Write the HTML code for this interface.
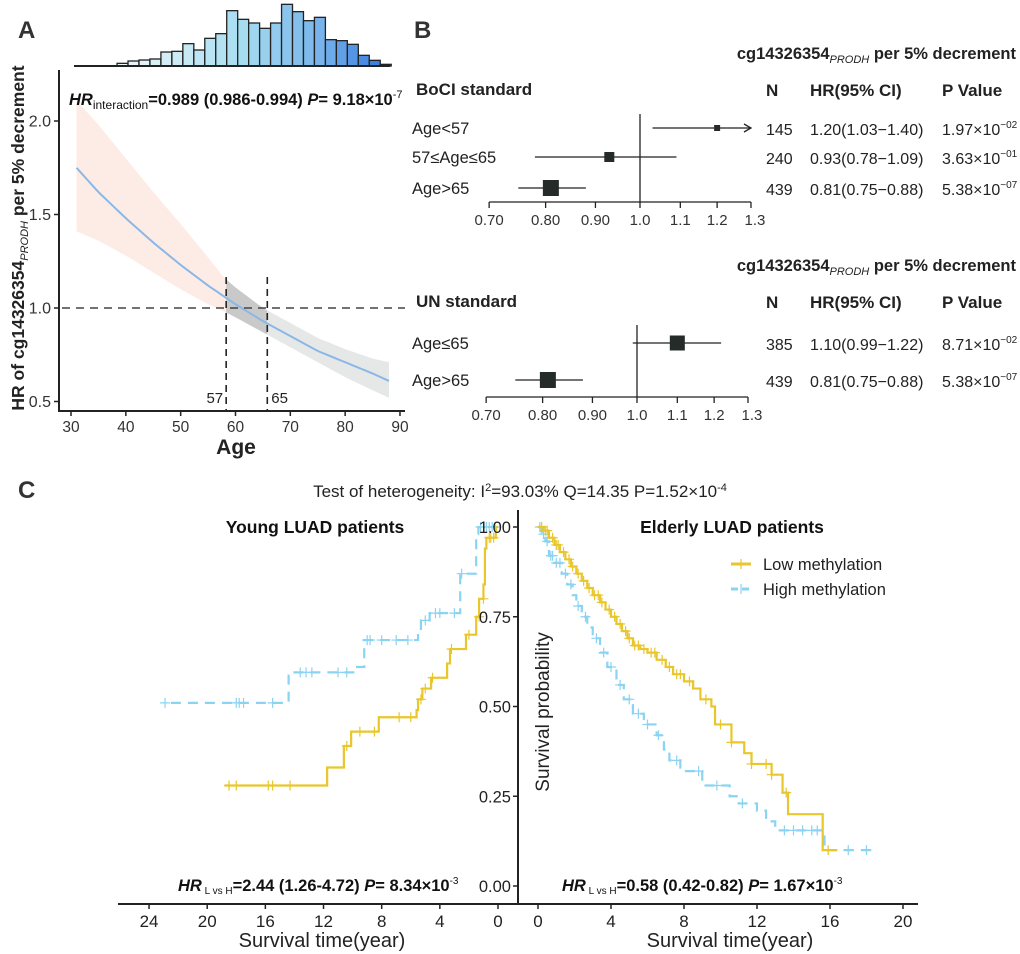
<!DOCTYPE html>
<html><head><meta charset="utf-8"><style>
body{margin:0;background:#fff;}
svg{display:block;font-family:"Liberation Sans",Arial,sans-serif;}
</style></head><body>
<svg id="fig" width="1020" height="954" viewBox="0 0 1020 954">
<g id="gA"></g>
<g id="gB"></g>
<g id="gC"></g>
</svg>
<script>
// ---------- Panel A data ----------
const histStartAge = 38.4;
const histBinWidth = 2;
const histCounts = [8,15,18,21,42,44,67,48,83,97,166,140,129,113,129,185,163,136,146,79,76,65,32,17,5];
const curveAges = [31,35,40,45,50,55,58,60,65,70,75,80,85,88];
const curveHR   = [1.75,1.62,1.48,1.35,1.23,1.12,1.06,1.02,0.93,0.85,0.77,0.71,0.65,0.61];
const curveUpper= [2.11,1.98,1.80,1.62,1.45,1.27,1.16,1.11,1.00,0.92,0.84,0.78,0.73,0.71];
const curveLower= [1.41,1.36,1.28,1.19,1.10,1.02,0.98,0.95,0.87,0.79,0.71,0.63,0.56,0.52];
const cutAges = [58.3,65.8];
const cutLabels = ["57","65"];
const ageTicks = [30,40,50,60,70,80,90];
const hrTicks = [0.5,1.0,1.5,2.0];
// ---------- Panel B data ----------
const f1Labels = ["Age<57","57≤Age≤65","Age>65"];
const f1N = ["145","240","439"];
const f1HR = [1.20,0.93,0.81];
const f1Lo = [1.03,0.78,0.75];
const f1Hi = [1.40,1.09,0.88];
const f1HRtxt = ["1.20(1.03−1.40)","0.93(0.78−1.09)","0.81(0.75−0.88)"];
const f1Pbase = ["1.97×10","3.63×10","5.38×10"];
const f1Pexp = ["−02","−01","−07"];
const f2Labels = ["Age≤65","Age>65"];
const f2N = ["385","439"];
const f2HR = [1.10,0.81];
const f2Lo = [0.99,0.75];
const f2Hi = [1.22,0.88];
const f2HRtxt = ["1.10(0.99−1.22)","0.81(0.75−0.88)"];
const f2Pbase = ["8.71×10","5.38×10"];
const f2Pexp = ["−02","−07"];
const forestTicks = [0.7,0.8,0.9,1.0,1.1,1.2,1.3];
const forestTickLabels = ["0.70","0.80","0.90","1.0","1.1","1.2","1.3"];
// ---------- Panel C data ----------
const youngLowSteps = [[0,1.0],[0.15,0.97],[0.8,0.94],[0.9,0.84],[1.0,0.80],[1.3,0.75],[1.5,0.70],[2.2,0.66],[3.3,0.62],[3.5,0.58],[4.6,0.55],[5.2,0.52],[5.5,0.49],[5.6,0.47],[8.2,0.43],[10.1,0.39],[10.6,0.33],[11.75,0.28]];
const youngLowEnd = 18.8;
const youngLowCens = [0.3,0.5,0.6,1.0,1.3,2.0,3.2,4.5,5.0,5.3,6.0,6.8,8.5,9.5,10.4,14.3,15.5,15.8,18.0,18.5];
const youngHighSteps = [[0,1.0],[1.35,0.98],[1.5,0.87],[2.6,0.76],[4.7,0.74],[5.3,0.71],[5.5,0.685],[9.2,0.61],[9.8,0.595],[14.4,0.51]];
const youngHighEnd = 22.9;
const youngHighCens = [0.2,0.4,0.6,0.8,1.2,2.5,3.0,4.0,4.3,5.0,6.2,7.0,8.0,8.8,9.0,10.4,11.0,12.8,13.2,13.6,15.5,17.5,17.8,18.0,22.9];
const oldLowSteps = [[0,1.0],[0.3,0.99],[0.6,0.97],[0.9,0.95],[1.2,0.93],[1.5,0.91],[1.8,0.89],[2.1,0.87],[2.4,0.85],[2.7,0.83],[3.0,0.81],[3.4,0.79],[3.7,0.77],[4.0,0.75],[4.3,0.73],[4.6,0.71],[4.9,0.69],[5.2,0.67],[5.6,0.66],[6.0,0.65],[6.5,0.63],[7.0,0.61],[7.4,0.59],[8.0,0.57],[8.5,0.55],[8.9,0.52],[9.5,0.50],[9.7,0.45],[10.6,0.40],[11.3,0.37],[11.7,0.34],[12.8,0.31],[13.4,0.26],[13.7,0.20],[15.6,0.10]];
const oldLowEnd = 16.4;
const oldLowCens = [0.2,0.4,0.5,0.8,1.0,1.1,1.4,1.7,1.9,2.2,2.5,2.8,3.1,3.3,3.5,3.9,4.2,4.5,4.8,5.0,5.3,5.5,5.8,6.2,6.4,6.8,7.2,7.6,7.8,8.3,9.2,10.0,10.6,11.7,12.5,12.8,13.6,15.9];
const oldHighSteps = [[0,1.0],[0.2,0.98],[0.4,0.96],[0.6,0.92],[0.9,0.90],[1.3,0.87],[1.6,0.84],[1.9,0.81],[2.1,0.78],[2.4,0.75],[2.7,0.72],[3.0,0.69],[3.4,0.65],[3.8,0.61],[4.3,0.56],[4.7,0.52],[5.2,0.48],[5.8,0.45],[6.5,0.42],[6.9,0.38],[7.2,0.35],[7.8,0.32],[9.0,0.28],[10.5,0.25],[11.0,0.23],[12.0,0.21],[12.5,0.18],[13.0,0.155],[15.7,0.10]];
const oldHighEnd = 18.4;
const oldHighCens = [0.1,0.3,0.5,0.7,0.8,1.0,1.2,1.5,1.8,2.2,2.6,3.2,3.6,4.0,4.5,5.0,5.5,6.0,6.6,7.6,8.8,9.8,11.2,13.5,14.0,14.5,15.0,15.3,17.0,18.0];
const leftTimeTicks = [24,20,16,12,8,4,0];
const rightTimeTicks = [0,4,8,12,16,20];
const survTicks = [0,0.25,0.5,0.75,1.0];
const survTickLabels = ["0.00","0.25","0.50","0.75","1.00"];

const NS="http://www.w3.org/2000/svg";
function mk(parent,tag,attrs,text){const e=document.createElementNS(NS,tag);for(const k in attrs)e.setAttribute(k,attrs[k]);if(text!==undefined)e.textContent=text;parent.appendChild(e);return e;}

// ===== Panel A =====
const gA=document.getElementById('gA');
const ax=a=>71+(a-30)*5.483;
const ay=h=>308-(h-1)*187;
let t;
t=mk(gA,'text',{x:18,y:38,'font-size':24,'font-weight':'bold',fill:'#333'},'A');

const histBase=66, histScale=1/3;
function lerp(c1,c2,f){return c1.map((v,i)=>Math.round(v+(c2[i]-v)*f));}
histCounts.forEach((c,i)=>{
  const f=i/(histCounts.length-1);
  const col=f<0.45?lerp([238,247,250],[166,221,240],f/0.45):(f<0.75?lerp([166,221,240],[120,180,235],(f-0.45)/0.3):lerp([120,180,235],[50,120,220],(f-0.75)/0.25));
  const x0=ax(histStartAge+i*histBinWidth), x1=ax(histStartAge+(i+1)*histBinWidth);
  const r=mk(gA,'rect',{x:x0,y:histBase-c*histScale,width:x1-x0,height:c*histScale,fill:`rgb(${col})`,stroke:'#222','stroke-width':1.3});
  
});
t=mk(gA,'line',{x1:74,y1:histBase,x2:390,y2:histBase,stroke:'#222','stroke-width':2});

function interp(arr,a){for(let i=0;i<curveAges.length-1;i++){if(a>=curveAges[i]&&a<=curveAges[i+1]){const f=(a-curveAges[i])/(curveAges[i+1]-curveAges[i]);return arr[i]+(arr[i+1]-arr[i])*f;}}return arr[arr.length-1];}
function bandPath(a0,a1){
  const up=[],low=[];
  const n=40;
  for(let s=0;s<=n;s++){const a=a0+(a1-a0)*s/n;up.push([ax(a),ay(interp(curveUpper,a))]);low.push([ax(a),ay(interp(curveLower,a))]);}
  return 'M'+up.map(p=>p.join(',')).join('L')+'L'+low.reverse().map(p=>p.join(',')).join('L')+'Z';
}
const aMin=curveAges[0],aMax=curveAges[curveAges.length-1];
t=mk(gA,'path',{d:bandPath(aMin,cutAges[0]),fill:'#fdece6'});

t=mk(gA,'path',{d:bandPath(cutAges[0],cutAges[1]),fill:'#c9c9c9'});

t=mk(gA,'path',{d:bandPath(cutAges[1],aMax),fill:'#e6e8e8'});

let cd='';
for(let s=0;s<=80;s++){const a=aMin+(aMax-aMin)*s/80;cd+=(cd?'L':'M')+ax(a)+','+ay(interp(curveHR,a));}
t=mk(gA,'path',{d:cd,fill:'none',stroke:'#8ab8e6','stroke-width':2});

t=mk(gA,'line',{x1:62,y1:ay(1),x2:405,y2:ay(1),stroke:'#444','stroke-width':1.6,'stroke-dasharray':'8 6'});

cutAges.forEach((c,i)=>{
  t=mk(gA,'line',{x1:ax(c),y1:277,x2:ax(c),y2:410,stroke:'#222','stroke-width':1.6,'stroke-dasharray':'7 5'});
  
  t=mk(gA,'text',{x:i==0?ax(c)-3:ax(c)+4,y:403,'font-size':15,fill:'#222','text-anchor':i==0?'end':'start'},cutLabels[i]);
  
});
t=mk(gA,'path',{d:'M59,70V411H405',fill:'none',stroke:'#222','stroke-width':2});

ageTicks.forEach(a=>{mk(gA,'line',{x1:ax(a),y1:411,x2:ax(a),y2:416,stroke:'#222','stroke-width':1.5});
  t=mk(gA,'text',{x:ax(a),y:432,'font-size':15.5,fill:'#333','text-anchor':'middle'},a);
  });
hrTicks.forEach(h=>{mk(gA,'line',{x1:54,y1:ay(h),x2:59,y2:ay(h),stroke:'#222','stroke-width':1.5});
  t=mk(gA,'text',{x:51,y:ay(h)+5.5,'font-size':16,fill:'#333','text-anchor':'end'},h.toFixed(1));
  });
t=mk(gA,'text',{x:236,y:454,'font-size':21,'font-weight':'bold',fill:'#222','text-anchor':'middle'},'Age');

t=mk(gA,'text',{transform:'translate(24,238) rotate(-90)','font-size':17.5,'font-weight':'bold',fill:'#222','text-anchor':'middle'});

t.innerHTML='HR of cg14326354<tspan font-size="11" font-style="italic" font-weight="normal" dy="4">PRODH</tspan><tspan dy="-4"> per 5% decrement</tspan>';
t=mk(gA,'text',{x:69,y:105,'font-size':16.5,'font-weight':'bold',fill:'#111'});

t.innerHTML='<tspan font-style="italic">HR</tspan><tspan font-size="12" font-weight="normal" dy="4">interaction</tspan><tspan dy="-4">=0.989 (0.986-0.994) </tspan><tspan font-style="italic">P</tspan>= 9.18×10<tspan font-size="11" font-weight="normal" dy="-7">-7</tspan>';

// ===== Panel B =====
const gB=document.getElementById('gB');
t=mk(gB,'text',{x:414,y:38,'font-size':24,'font-weight':'bold',fill:'#333'},'B');

const fk=423;
const colN=766, colHR=810, colP=942;
function forest(cx,hdrY,rowYs,axisY,vTop,labels,ns,hrs,los,his,hrt,pb,pe,sizes,tag){
  const fx=v=>cx+Math.log(Math.min(v,1.3))*fk;
  t=mk(gB,'text',{x:1016,y:hdrY-36,'font-size':16.5,'font-weight':'bold',fill:'#222','text-anchor':'end'});
  
  t.innerHTML='cg14326354<tspan font-size="11" font-style="italic" font-weight="normal" dy="4">PRODH</tspan><tspan dy="-4"> per 5% decrement</tspan>';
  t=mk(gB,'text',{x:416,y:hdrY,'font-size':17,'font-weight':'bold',fill:'#222'},tag=='forest-boci'?'BoCI standard':'UN standard');
  
  [['N',colN],['HR(95% CI)',colHR],['P Value',colP]].forEach(h=>{t=mk(gB,'text',{x:h[1],y:hdrY+1,'font-size':17,'font-weight':'bold',fill:'#222'},h[0]);
    });
  mk(gB,'line',{x1:cx,y1:vTop,x2:cx,y2:axisY,stroke:'#222','stroke-width':1.3});
  labels.forEach((lab,i)=>{
    const y=rowYs[i];
    t=mk(gB,'text',{x:412,y:y+6,'font-size':16.5,fill:'#222'},lab);
    const x2=fx(his[i]);
    t=mk(gB,'line',{x1:fx(los[i]),y1:y,x2:x2,y2:y,stroke:'#222','stroke-width':1.3});
    
    if(his[i]>1.3){mk(gB,'path',{d:`M${x2-7},${y-4}L${x2},${y}L${x2-7},${y+4}`,fill:'none',stroke:'#222','stroke-width':1.3});}
    const s=sizes[i];
    t=mk(gB,'rect',{x:fx(hrs[i])-s/2,y:y-s/2,width:s,height:s,fill:'#252b28'});
    
    t=mk(gB,'text',{x:colN,y:y+7,'font-size':16,fill:'#222'},ns[i]);
    t=mk(gB,'text',{x:colHR,y:y+7,'font-size':16,fill:'#222'},hrt[i]);
    t=mk(gB,'text',{x:colP,y:y+7,'font-size':16,fill:'#222'});
    t.innerHTML=pb[i]+'<tspan font-size="10" dy="-7">'+pe[i]+'</tspan>';
  });
  mk(gB,'line',{x1:fx(0.7),y1:axisY,x2:fx(1.3),y2:axisY,stroke:'#222','stroke-width':1.3});
  forestTicks.forEach((v,i)=>{mk(gB,'line',{x1:fx(v),y1:axisY,x2:fx(v),y2:axisY+6,stroke:'#222','stroke-width':1.3});
    t=mk(gB,'text',{x:fx(v)+(i==6?4:0),y:axisY+23,'font-size':15,fill:'#333','text-anchor':'middle'},forestTickLabels[i]);
    });
}
forest(640,95,[128,157,188],202,114,f1Labels,f1N,f1HR,f1Lo,f1Hi,f1HRtxt,f1Pbase,f1Pexp,[6,10,16],'forest-boci');
forest(637,307,[343,380],397,325,f2Labels,f2N,f2HR,f2Lo,f2Hi,f2HRtxt,f2Pbase,f2Pexp,[15,16],'forest-un');

// ===== Panel C =====
const gC=document.getElementById('gC');
t=mk(gC,'text',{x:18,y:498,'font-size':24,'font-weight':'bold',fill:'#333'},'C');

t=mk(gC,'text',{x:520,y:497,'font-size':17,fill:'#222','text-anchor':'middle'});

t.innerHTML='Test of heterogeneity: I<tspan font-size="11" dy="-6">2</tspan><tspan dy="6">=93.03% Q=14.35 P=1.52×10</tspan><tspan font-size="11" dy="-6">-4</tspan>';
const sy=s=>886-s*359;
const lx=tt=>498-tt*14.54;
const rx=tt=>538+tt*18.25;
const YEL='#e9c62b', BLU='#8bd3f2';
function km(fx,steps,end,cens,color,dash,name){
  let d=`M${fx(steps[0][0])},${sy(steps[0][1])}`;
  for(let i=1;i<steps.length;i++){d+=`H${fx(steps[i][0])}V${sy(steps[i][1])}`;}
  d+=`H${fx(end)}`;
  t=mk(gC,'path',{d:d,fill:'none',stroke:color,'stroke-width':2.2,'stroke-dasharray':dash||'none'});
  
  cens.forEach(c=>{let s=steps[0][1];for(const st of steps){if(st[0]<=c)s=st[1];}
    const x=fx(c),y=sy(s);
    t=mk(gC,'path',{d:`M${x-5},${y}H${x+5}M${x},${y-5}V${y+5}`,stroke:color,'stroke-width':1.2,fill:'none'});
    });
}
km(lx,youngHighSteps,youngHighEnd,youngHighCens,BLU,'10 7','young-high-curve');
km(lx,youngLowSteps,youngLowEnd,youngLowCens,YEL,null,'young-low-curve');
km(rx,oldHighSteps,oldHighEnd,oldHighCens,BLU,'10 7','elderly-high-curve');
km(rx,oldLowSteps,oldLowEnd,oldLowCens,YEL,null,'elderly-low-curve');
t=mk(gC,'path',{d:'M118,904H918M518,510V904',fill:'none',stroke:'#222','stroke-width':2});

leftTimeTicks.forEach(v=>{mk(gC,'line',{x1:lx(v),y1:904,x2:lx(v),y2:909,stroke:'#222','stroke-width':1.5});
  t=mk(gC,'text',{x:lx(v),y:927,'font-size':17,fill:'#222','text-anchor':'middle'},v);});
rightTimeTicks.forEach(v=>{mk(gC,'line',{x1:rx(v),y1:904,x2:rx(v),y2:909,stroke:'#222','stroke-width':1.5});
  t=mk(gC,'text',{x:rx(v),y:927,'font-size':17,fill:'#222','text-anchor':'middle'},v);});
survTicks.forEach((v,i)=>{mk(gC,'line',{x1:513,y1:sy(v),x2:518,y2:sy(v),stroke:'#222','stroke-width':1.5});
  t=mk(gC,'text',{x:511,y:sy(v)+6,'font-size':16.5,fill:'#222','text-anchor':'end'},survTickLabels[i]);});
t=mk(gC,'text',{x:322,y:947,'font-size':20,fill:'#222','text-anchor':'middle'},'Survival time(year)');
t=mk(gC,'text',{x:730,y:947,'font-size':20,fill:'#222','text-anchor':'middle'},'Survival time(year)');
t=mk(gC,'text',{transform:'translate(549,712) rotate(-90)','font-size':19,fill:'#222','text-anchor':'middle'},'Survival probability');
t=mk(gC,'text',{x:315,y:533,'font-size':17.5,'font-weight':'bold',fill:'#111','text-anchor':'middle'},'Young LUAD patients');
t=mk(gC,'text',{x:732,y:533,'font-size':17.5,'font-weight':'bold',fill:'#111','text-anchor':'middle'},'Elderly LUAD patients');
t=mk(gC,'line',{x1:731,y1:564,x2:751,y2:564,stroke:YEL,'stroke-width':3});
mk(gC,'line',{x1:741,y1:559,x2:741,y2:569,stroke:YEL,'stroke-width':1.2});
t=mk(gC,'text',{x:763,y:570,'font-size':16.5,fill:'#222'},'Low methylation');
t=mk(gC,'line',{x1:731,y1:589,x2:751,y2:589,stroke:BLU,'stroke-width':3,'stroke-dasharray':'7 4'});
mk(gC,'line',{x1:741,y1:584,x2:741,y2:594,stroke:BLU,'stroke-width':1.2});
t=mk(gC,'text',{x:763,y:595,'font-size':16.5,fill:'#222'},'High methylation');
function hrText(x,main,exp,name){
  t=mk(gC,'text',{x:x,y:891,'font-size':16.5,'font-weight':'bold',fill:'#111'});
  t.innerHTML='<tspan font-style="italic">HR</tspan><tspan font-size="10" font-weight="normal" dy="3"> L vs H</tspan><tspan dy="-3">'+main+'</tspan><tspan font-style="italic">P</tspan>'+exp[0]+'<tspan font-size="10" font-weight="normal" dy="-7">'+exp[1]+'</tspan>';
}
hrText(178,'=2.44 (1.26-4.72) ',['= 8.34×10','-3'],'young-hr-annotation');
hrText(562,'=0.58 (0.42-0.82) ',['= 1.67×10','-3'],'elderly-hr-annotation');
</script>
</body></html>
